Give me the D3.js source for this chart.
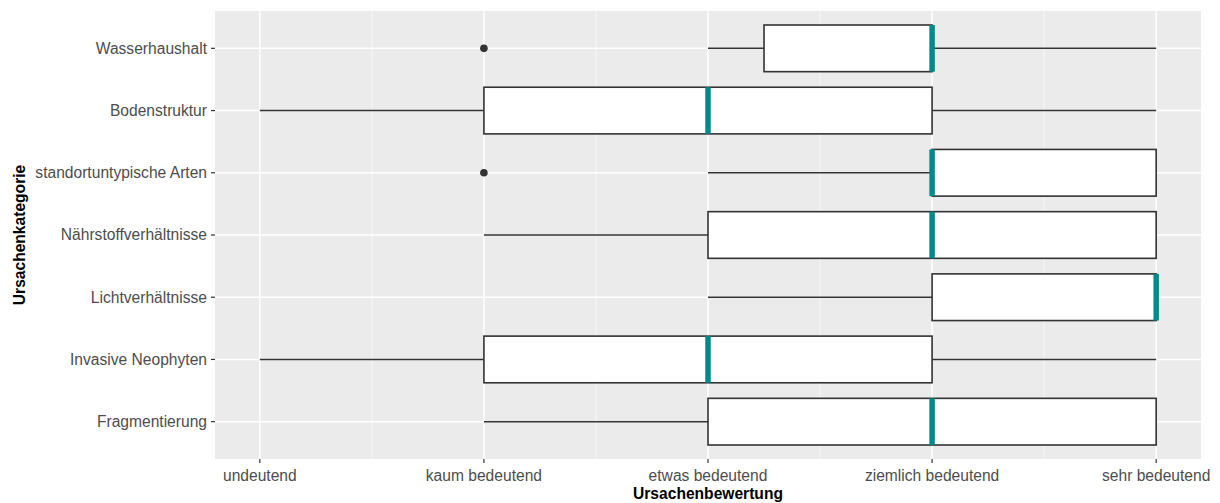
<!DOCTYPE html>
<html>
<head>
<meta charset="utf-8">
<script src="https://cdn.jsdelivr.net/npm/d3@7"></script>
<style>
  html, body { margin: 0; padding: 0; background: #fff; }
  svg { display: block; font-family: "Liberation Sans", Arial, sans-serif; }
</style>
</head>
<body>
<svg id="chart" width="1220" height="503"></svg>
<script>
// ---- data ----
const categories = ["Wasserhaushalt", "Bodenstruktur", "standortuntypische Arten", "Nährstoffverhältnisse", "Lichtverhältnisse", "Invasive Neophyten", "Fragmentierung"];
const whiskerLow = [3, 1, 3, 2, 3, 1, 2];
const q1 = [3.25, 2, 4, 3, 4, 2, 3];
const median = [4, 3, 4, 4, 5, 3, 4];
const q3 = [4, 4, 5, 5, 5, 4, 5];
const whiskerHigh = [5, 5, 5, 5, 5, 5, 5];
const outliers = [[2], [], [2], [], [], [], []];
const tickValues = [1, 2, 3, 4, 5];
const tickLabels = ["undeutend", "kaum bedeutend", "etwas bedeutend", "ziemlich bedeutend", "sehr bedeutend"];
const minorValues = [1.5, 2.5, 3.5, 4.5];
const xTitle = "Ursachenbewertung";
const yTitle = "Ursachenkategorie";

// ---- layout ----
const panel = { left: 215, right: 1201, top: 11, bottom: 459 };
const svg = d3.select("#chart");

const x = d3.scaleLinear().domain([0.8, 5.2]).range([panel.left, panel.right]);
const y = d3.scalePoint().domain(categories).range([panel.top, panel.bottom]).padding(0.6);
const step = y.step();
const boxH = step * 0.75;

// panel background
svg.append("rect")
  .attr("x", panel.left).attr("y", panel.top)
  .attr("width", panel.right - panel.left).attr("height", panel.bottom - panel.top)
  .attr("fill", "#EBEBEB");

const grid = svg.append("g");
// minor x grid
grid.selectAll(".minor").data(minorValues).enter().append("line")
  .attr("x1", d => x(d)).attr("x2", d => x(d))
  .attr("y1", panel.top).attr("y2", panel.bottom)
  .attr("stroke", "#fff").attr("stroke-width", 0.8).attr("opacity", 0.85);
// major x grid
grid.selectAll(".majorx").data(tickValues).enter().append("line")
  .attr("x1", d => x(d)).attr("x2", d => x(d))
  .attr("y1", panel.top).attr("y2", panel.bottom)
  .attr("stroke", "#fff").attr("stroke-width", 1.5);
// major y grid
grid.selectAll(".majory").data(categories).enter().append("line")
  .attr("x1", panel.left).attr("x2", panel.right)
  .attr("y1", d => y(d)).attr("y2", d => y(d))
  .attr("stroke", "#fff").attr("stroke-width", 1.5);

// ---- boxplots ----
const data = categories.map((c, i) => ({
  cat: c, lo: whiskerLow[i], q1: q1[i], med: median[i], q3: q3[i], hi: whiskerHigh[i], out: outliers[i]
}));

const g = svg.append("g");
data.forEach(d => {
  const cy = y(d.cat);
  // whiskers
  if (d.lo < d.q1) {
    g.append("line").attr("x1", x(d.lo)).attr("x2", x(d.q1)).attr("y1", cy).attr("y2", cy)
      .attr("stroke", "#333333").attr("stroke-width", 1.5);
  }
  if (d.hi > d.q3) {
    g.append("line").attr("x1", x(d.q3)).attr("x2", x(d.hi)).attr("y1", cy).attr("y2", cy)
      .attr("stroke", "#333333").attr("stroke-width", 1.5);
  }
  // box
  g.append("rect")
    .attr("x", x(d.q1)).attr("y", cy - boxH / 2)
    .attr("width", x(d.q3) - x(d.q1)).attr("height", boxH)
    .attr("fill", "#ffffff").attr("stroke", "#333333").attr("stroke-width", 1.6);
  // median
  g.append("line")
    .attr("x1", x(d.med)).attr("x2", x(d.med))
    .attr("y1", cy - boxH / 2).attr("y2", cy + boxH / 2)
    .attr("stroke", "#008B8B").attr("stroke-width", 5.5);
  // outliers
  d.out.forEach(o => {
    g.append("circle").attr("cx", x(o)).attr("cy", cy).attr("r", 3.8).attr("fill", "#333333");
  });
});

// ---- axes ----
const xAxis = svg.append("g");
xAxis.selectAll(".tick").data(tickValues).enter().append("line")
  .attr("x1", d => x(d)).attr("x2", d => x(d))
  .attr("y1", panel.bottom).attr("y2", panel.bottom + 4)
  .attr("stroke", "#333333").attr("stroke-width", 1.2);
xAxis.selectAll(".lbl").data(tickValues).enter().append("text")
  .attr("x", d => x(d)).attr("y", 480.5)
  .attr("text-anchor", "middle")
  .attr("font-size", "15.6px").attr("fill", "#4D4D4D")
  .text((d, i) => tickLabels[i]);

const yAxis = svg.append("g");
yAxis.selectAll(".tick").data(categories).enter().append("line")
  .attr("x1", panel.left - 4).attr("x2", panel.left)
  .attr("y1", d => y(d)).attr("y2", d => y(d))
  .attr("stroke", "#333333").attr("stroke-width", 1.2);
yAxis.selectAll(".lbl").data(categories).enter().append("text")
  .attr("x", panel.left - 8).attr("y", d => y(d))
  .attr("dy", "0.35em")
  .attr("text-anchor", "end")
  .attr("font-size", "15.6px").attr("fill", "#4D4D4D")
  .text(d => d);

// titles
svg.append("text")
  .attr("x", (panel.left + panel.right) / 2).attr("y", 499)
  .attr("text-anchor", "middle")
  .attr("font-size", "15.6px").attr("font-weight", "bold").attr("fill", "#000")
  .text(xTitle);
svg.append("text")
  .attr("transform", `translate(24.5, ${(panel.top + panel.bottom) / 2}) rotate(-90)`)
  .attr("text-anchor", "middle")
  .attr("font-size", "15.6px").attr("font-weight", "bold").attr("fill", "#000")
  .text(yTitle);
</script>
</body>
</html>
